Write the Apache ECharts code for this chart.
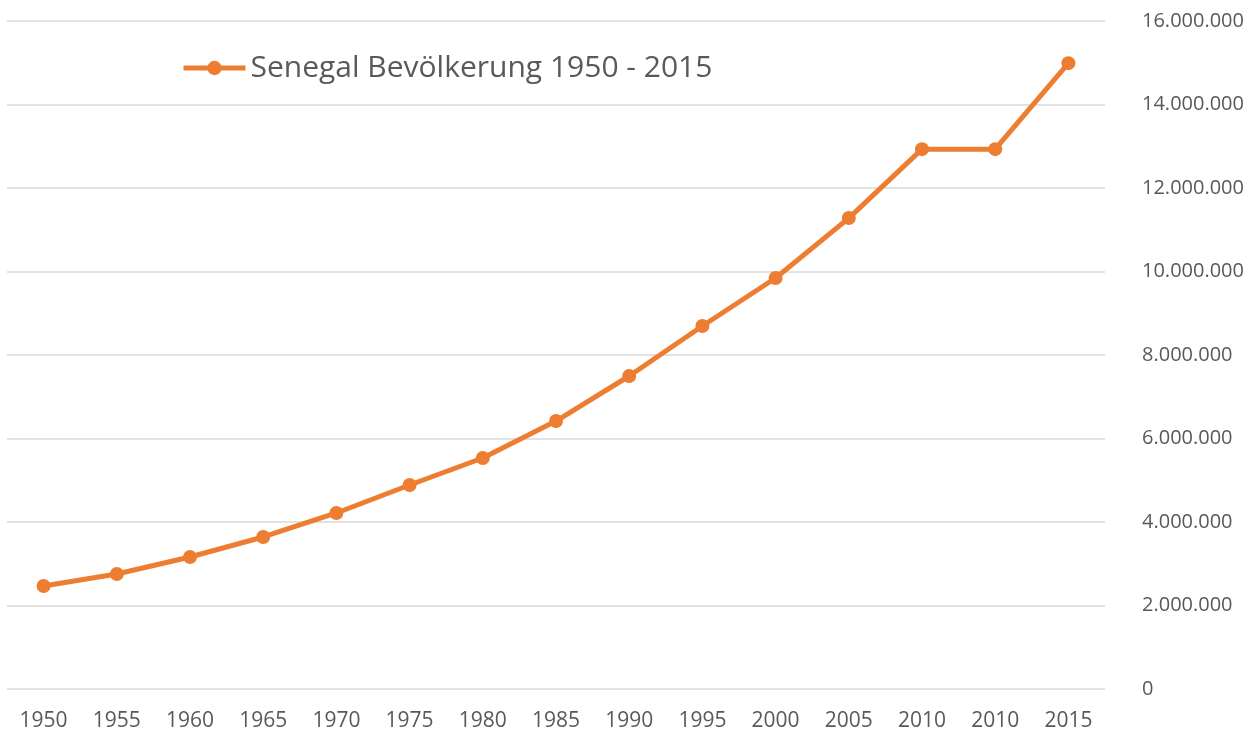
<!DOCTYPE html>
<html>
<head>
<meta charset="utf-8">
<script src="https://cdn.jsdelivr.net/npm/echarts@6/dist/echarts.min.js"></script>
<style>
  html, body { margin: 0; padding: 0; background: #fff; }
  #chart { width: 1254px; height: 736px; }
</style>
</head>
<body>
<div id="chart"></div>
<script>
// Senegal population, values
const years = ['1950', '1955', '1960', '1965', '1970', '1975', '1980', '1985',
  '1990', '1995', '2000', '2005', '2010', '2010', '2015']
const population = [2467000, 2754000, 3162000, 3641000, 4216000, 4886000, 5533000,
  6419000, 7497000, 8695000, 9844000, 11280000, 12930000, 12930000, 14990000]
const seriesName = 'Senegal Bevölkerung 1950 - 2015'

const font = '"Open Sans", "Liberation Sans", sans-serif'
const textColor = '#595959'
const orange = '#ED7D31'

const chart = echarts.init(document.getElementById('chart'))

const formatNum = v => String(v).replace(/\B(?=(\d{3})+(?!\d))/g, '.')

chart.setOption({
  animation: false,
  grid: { left: 7, right: 149, top: 21, bottom: 47, containLabel: false },
  legend: {
    left: 176,
    top: 48,
    itemWidth: 62,
    itemHeight: 18,
    lineStyle: { width: 5 },
    textStyle: { fontFamily: font, fontSize: 30, color: textColor },
    data: [seriesName]
  },
  xAxis: {
    type: 'category',
    data: years,
    boundaryGap: true,
    axisLine: { show: false },
    axisTick: { show: false },
    axisLabel: { fontFamily: font, fontSize: 21, color: textColor, margin: 22, interval: 0 }
  },
  yAxis: {
    type: 'value',
    position: 'right',
    min: 0,
    max: 16000000,
    interval: 2000000,
    axisLine: { show: false },
    axisTick: { show: false },
    splitLine: { lineStyle: { color: '#d9d9d9', width: 1.5 } },
    axisLabel: {
      fontFamily: font, fontSize: 20, color: textColor, margin: 37,
      formatter: formatNum
    }
  },
  series: [{
    name: seriesName,
    type: 'line',
    data: population,
    symbol: 'circle',
    symbolSize: 14,
    lineStyle: { color: orange, width: 5 },
    itemStyle: { color: orange }
  }]
})
</script>
</body>
</html>
